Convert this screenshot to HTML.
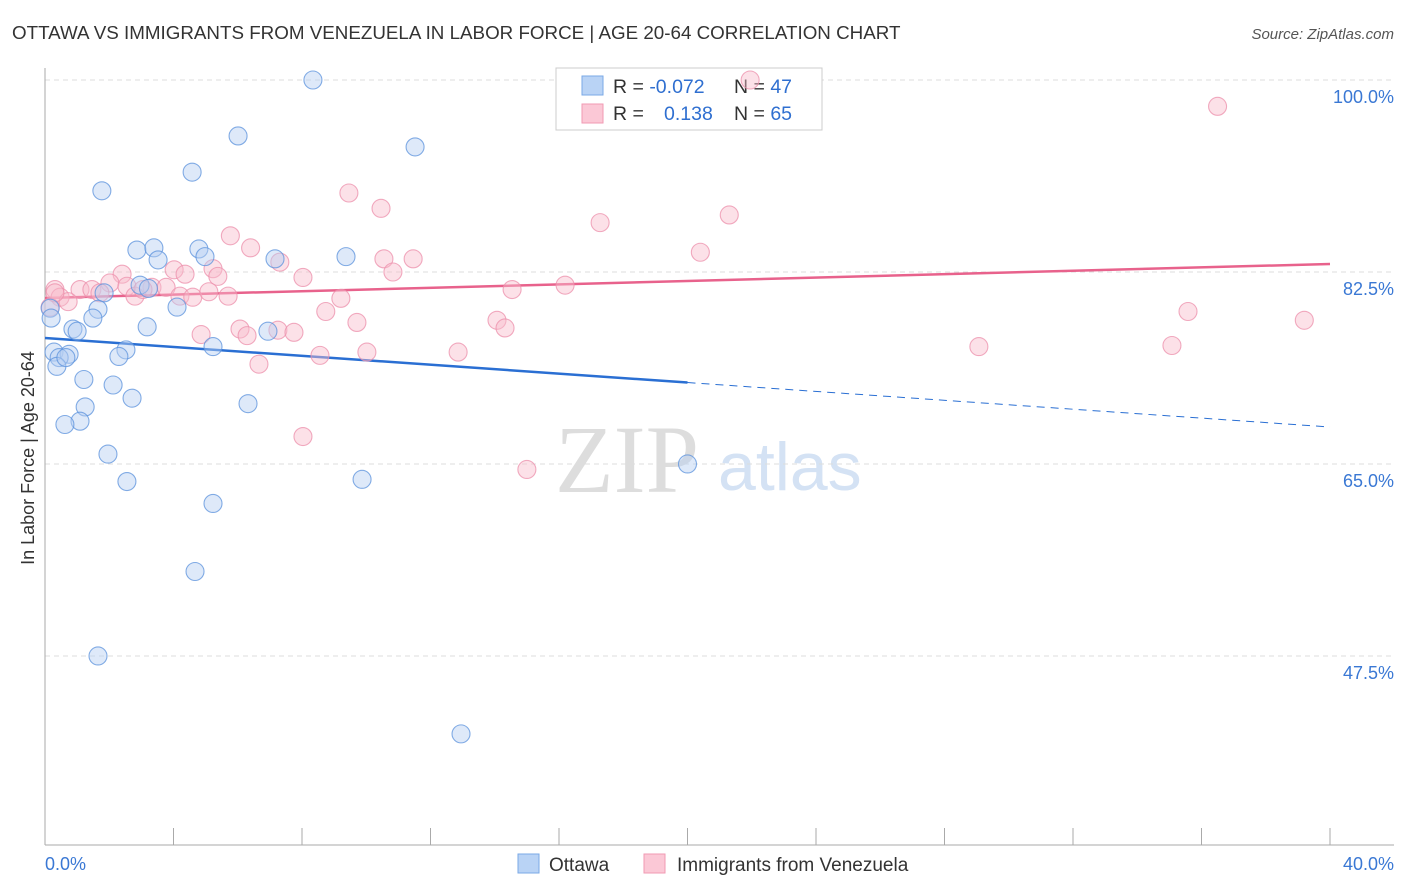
<!DOCTYPE html>
<html><head><meta charset="utf-8">
<style>
body{margin:0;background:#fff;font-family:"Liberation Sans",sans-serif;}
#wrap{position:relative;width:1406px;height:892px;overflow:hidden;}
</style></head>
<body>
<div id="wrap">
<svg id="svg" width="1406" height="892">
  <text x="12" y="39" font-size="18.8" fill="#333">OTTAWA VS IMMIGRANTS FROM VENEZUELA IN LABOR FORCE | AGE 20-64 CORRELATION CHART</text>
  <text x="1394" y="39" font-size="15" fill="#555" text-anchor="end" font-style="italic">Source: ZipAtlas.com</text>
  <text x="34" y="458" font-size="18" fill="#333" text-anchor="middle" transform="rotate(-90 34 458)">In Labor Force | Age 20-64</text>
  <text x="555" y="492" font-size="96" fill="#ddd" font-family="Liberation Serif">ZIP</text>
  <text x="718" y="490" font-size="68" fill="#d4e2f4">atlas</text>
  <g id="grid"></g><g id="axes"></g>
  <g>
    <rect x="556" y="68" width="266" height="62" fill="#fff" stroke="#ccc"/>
    <rect x="582" y="76" width="21" height="19" fill="#b9d3f5" stroke="#7aa8e6"/>
    <rect x="582" y="104" width="21" height="19" fill="#fbc8d6" stroke="#f09ab3"/>
    <text x="613" y="93" font-size="19.5" fill="#333">R = <tspan fill="#2f6fd0">-0.072</tspan></text>
    <text x="734" y="93" font-size="19.5" fill="#333">N = <tspan fill="#2f6fd0">47</tspan></text>
    <text x="613" y="120" font-size="19.5" fill="#333">R = </text>
    <text x="664" y="120" font-size="19.5" fill="#2f6fd0">0.138</text>
    <text x="734" y="120" font-size="19.5" fill="#333">N = <tspan fill="#2f6fd0">65</tspan></text>
  </g>
  <g id="lines"></g><g id="pts"></g>
  <g>
    <rect x="518" y="854" width="21" height="19" fill="#b9d3f5" stroke="#7aa8e6"/>
    <text x="549" y="871" font-size="19" fill="#333">Ottawa</text>
    <rect x="644" y="854" width="21" height="19" fill="#fbc8d6" stroke="#f09ab3"/>
    <text x="677" y="871" font-size="19" fill="#333">Immigrants from Venezuela</text>
  </g>
  <text x="45" y="870" font-size="18" fill="#3a78d4">0.0%</text>
  <text x="1394" y="870" font-size="18" fill="#3a78d4" text-anchor="end">40.0%</text>
</svg>
</div>
<script>
const yTicks=[100,82.5,65,47.5];
const yTickLabels=["100.0%","82.5%","65.0%","47.5%"];
const blueX=[8.34,6.01,11.52,4.58,1.77,2.86,3.39,4.79,3.52,4.98,7.16,9.37,2.96,1.84,0.16,0.19,1.65,1.49,4.11,3.18,0.87,1.0,6.94,0.28,0.75,0.44,0.37,0.65,2.52,2.30,5.23,1.21,2.12,2.71,1.25,6.32,1.09,0.62,1.96,2.55,9.87,20.0,5.23,4.67,1.65,12.95,3.22];
const blueY=[100,94.9,93.9,91.6,89.9,84.5,84.7,84.6,83.6,83.9,83.7,83.9,81.3,80.6,79.2,78.3,79.1,78.3,79.3,77.5,77.3,77.1,77.1,75.2,75.0,74.7,73.9,74.7,75.4,74.8,75.7,72.7,72.2,71.0,70.2,70.5,68.9,68.6,65.9,63.4,63.6,65.0,61.4,55.2,47.5,40.4,81.0];
const pinkX=[21.95,36.5,9.46,10.46,21.3,17.28,5.77,6.4,20.4,10.55,11.46,7.31,10.83,4.02,5.23,5.38,4.36,8.03,2.40,14.54,16.19,0.31,1.09,1.46,2.02,2.55,3.33,3.77,4.2,4.6,5.1,5.7,2.8,0.47,0.72,0.16,0.31,9.21,8.74,9.71,14.07,14.32,6.07,7.25,7.75,6.29,4.86,35.58,39.2,29.07,35.08,10.02,12.86,8.56,6.66,8.03,15.0,3.05,1.71];
const pinkY=[100,97.6,89.7,88.3,87.7,87.0,85.8,84.7,84.3,83.7,83.7,83.4,82.5,82.7,82.8,82.1,82.3,82.0,82.3,80.9,81.3,80.9,80.9,80.9,81.5,81.2,81.1,81.1,80.3,80.2,80.7,80.3,80.3,80.2,79.8,79.3,80.6,80.1,78.9,77.9,78.1,77.4,77.3,77.2,77.0,76.7,76.8,78.9,78.1,75.7,75.8,75.2,75.2,74.9,74.1,67.5,64.5,80.9,80.6];
const blueTrend=[76.48,68.37];
const pinkTrend=[80.13,83.23];
const blueSolidEnd=20;
const NS="http://www.w3.org/2000/svg";
const X=v=>45+v/40*1285, Y=v=>80+(100-v)*10.971;
function mk(tag,attrs,parent){const e=document.createElementNS(NS,tag);for(const k in attrs)e.setAttribute(k,attrs[k]);parent.appendChild(e);return e;}
const grid=document.getElementById('grid'),axes=document.getElementById('axes'),lines=document.getElementById('lines'),pts=document.getElementById('pts');
yTicks.forEach((t,i)=>{
  const l=mk('line',{x1:45,x2:1394,y1:Y(t),y2:Y(t),stroke:'#ddd','stroke-dasharray':'5,4'},grid);
  
  
  const tx=mk('text',{x:1394,y:Y(t)+23,'font-size':18,fill:'#3a78d4','text-anchor':'end'},grid);
  tx.textContent=yTickLabels[i];
  
  
});
const ya=mk('line',{x1:45,x2:45,y1:68,y2:845,stroke:'#aaa'},axes);


const xa=mk('line',{x1:45,x2:1394,y1:845,y2:845,stroke:'#aaa'},axes);


for(let i=0;i<=10;i++){const t=mk('line',{x1:X(i*4),x2:X(i*4),y1:828,y2:845,stroke:'#aaa'},axes);
  
  }
const ty=(tr,x)=>tr[0]+(tr[1]-tr[0])*x/40;
function dots(xs,ys,fill,stroke,name){xs.forEach((x,i)=>{const c=mk('circle',{cx:X(x),cy:Y(ys[i]),r:9,fill:fill,'fill-opacity':0.45,stroke:stroke,'stroke-opacity':0.75,'stroke-width':1.1},pts);
  
  });}
dots(pinkX,pinkY,'#f8bccd','#ec8fab','venezuela-point');
dots(blueX,blueY,'#b5cff2','#5b92dc','ottawa-point');
let l1=mk('line',{x1:X(0),y1:Y(ty(blueTrend,0)),x2:X(blueSolidEnd),y2:Y(ty(blueTrend,blueSolidEnd)),stroke:'#2a6fd3','stroke-width':2.5},lines);


let l2=mk('line',{x1:X(blueSolidEnd),y1:Y(ty(blueTrend,blueSolidEnd)),x2:X(40),y2:Y(ty(blueTrend,40)),stroke:'#2a6fd3','stroke-width':1,'stroke-dasharray':'8,6'},lines);


let l3=mk('line',{x1:X(0),y1:Y(ty(pinkTrend,0)),x2:X(40),y2:Y(ty(pinkTrend,40)),stroke:'#e8628c','stroke-width':2.5},lines);


</script>
</body></html>
